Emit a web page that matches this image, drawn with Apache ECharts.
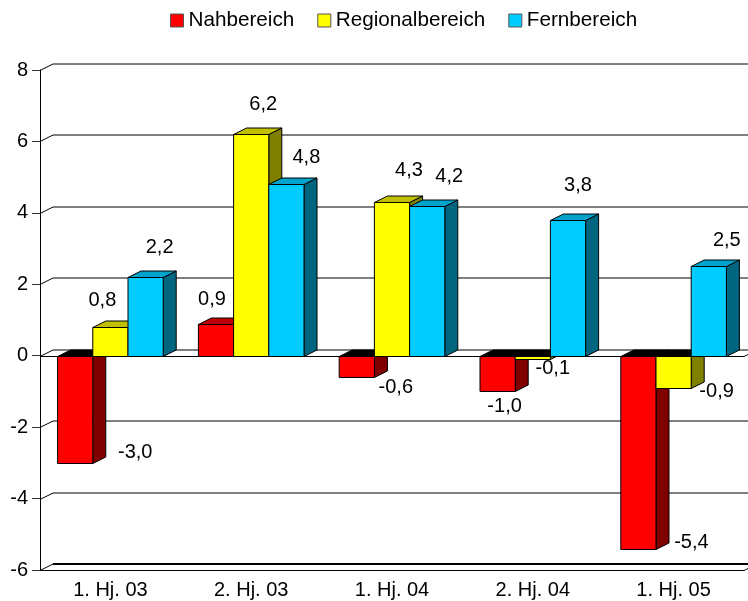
<!DOCTYPE html>
<html>
<head>
<meta charset="utf-8">
<style>
  html, body { margin: 0; padding: 0; background: #fff; }
  #chart { width: 748px; height: 601px; }
</style>
<script src="https://cdn.jsdelivr.net/npm/echarts@6/dist/echarts.min.js"></script>
</head>
<body>
<div id="chart"></div>
<script>
const categories = ['1. Hj. 03', '2. Hj. 03', '1. Hj. 04', '2. Hj. 04', '1. Hj. 05']
const nahbereich = [-3.0, 0.9, -0.6, -1.0, -5.4]
const regionalbereich = [0.8, 6.2, 4.3, -0.1, -0.9]
const fernbereich = [2.2, 4.8, 4.2, 3.8, 2.5]
const yTicks = [-6, -4, -2, 0, 2, 4, 6, 8]

// 3D depth of the bars and walls, in pixels
const DEPTH_X = 13
const DEPTH_Y = 6.5
const FONT = '"Liberation Sans", Arial, sans-serif'

// hand placed labels, offset from bar center / bar end
const nahOffsets = [[60, -11], [-4, -25], [39, 10], [7, 15], [53, -7]]
const regOffsets = [[-8, -27], [12, -30], [17, -32], [20, 9], [43, 3]]
const fernOffsets = [[14, -30], [20, -27], [22, -30], [10, -35], [18, -26]]

const crisp = (v) => Math.round(v) + 0.5

function renderWall(params, api) {
  const tick = api.value(1)
  const left = params.coordSys.x
  const right = left + params.coordSys.width
  const y = crisp(api.coord([0, tick])[1])
  const backY = y - DEPTH_Y
  const line = { stroke: '#000', lineWidth: 1, fill: null }
  const children = []
  if (tick === 0 || tick === yTicks[0]) {
    // floor plate at zero and at the bottom
    children.push({
      type: 'polygon',
      shape: { points: [[left, y], [left + DEPTH_X, backY], [right + DEPTH_X, backY], [right, y]] },
      style: { fill: '#fff', stroke: '#000', lineWidth: 1 }
    })
    if (tick !== 0) {
      children.push({
        type: 'line',
        shape: { x1: left + DEPTH_X, y1: backY, x2: right + DEPTH_X, y2: backY },
        style: { stroke: '#000', lineWidth: 2 }
      })
    }
  } else {
    children.push({
      type: 'polyline',
      shape: { points: [[left, y], [left + DEPTH_X, backY], [right + DEPTH_X, backY]] },
      style: line
    })
  }
  return { type: 'group', children: children }
}

function makeBars(index, front, top, side, offsets) {
  return function (params, api) {
    const value = api.value(1)
    const band = api.size([1, 0])[0]
    const barW = band / 4
    const center = api.coord([api.value(0), 0])[0]
    const x = center - band * 3 / 8 + index * barW
    const y0 = crisp(api.coord([0, 0])[1])
    const yv = crisp(api.coord([0, value])[1])
    const upper = Math.min(y0, yv)
    const lower = Math.max(y0, yv)
    const edge = { stroke: '#000', lineWidth: 1 }
    const off = offsets[params.dataIndex]
    return {
      type: 'group',
      children: [
        {
          type: 'polygon',
          shape: { points: [[x + barW, upper], [x + barW + DEPTH_X, upper - DEPTH_Y], [x + barW + DEPTH_X, lower - DEPTH_Y], [x + barW, lower]] },
          style: Object.assign({ fill: side }, edge)
        },
        {
          type: 'polygon',
          shape: { points: [[x, upper], [x + DEPTH_X, upper - DEPTH_Y], [x + barW + DEPTH_X, upper - DEPTH_Y], [x + barW, upper]] },
          // negative bars show a black lid on the zero plane
          style: Object.assign({ fill: value < 0 ? '#000' : top }, edge)
        },
        {
          type: 'rect',
          shape: { x: x, y: upper, width: barW, height: lower - upper },
          style: Object.assign({ fill: front }, edge)
        },
        {
          type: 'text',
          x: x + barW / 2 + off[0],
          y: yv + off[1],
          style: {
            text: value.toFixed(1).replace('.', ','),
            fill: '#000',
            font: '20px ' + FONT,
            align: 'center',
            verticalAlign: 'middle'
          }
        }
      ]
    }
  }
}

function barSeries(name, values, index, front, top, side, offsets) {
  return {
    name: name,
    type: 'custom',
    coordinateSystem: 'cartesian2d',
    itemStyle: { color: front },
    encode: { x: 0, y: 1 },
    data: values.map((v, i) => [i, v]),
    renderItem: makeBars(index, front, top, side, offsets)
  }
}

const chart = echarts.init(document.getElementById('chart'), null, { renderer: 'canvas' })
chart.setOption({
  animation: false,
  backgroundColor: '#fff',
  tooltip: { show: false },
  legend: {
    left: 165,
    top: 5,
    data: ['Nahbereich', 'Regionalbereich', 'Fernbereich'],
    icon: 'rect',
    itemWidth: 13,
    itemHeight: 13,
    itemGap: 23,
    itemStyle: { borderColor: '#555', borderWidth: 1 },
    textStyle: { color: '#000', fontSize: 20.7, fontFamily: FONT }
  },
  grid: { left: 40, right: 4, top: 70, bottom: 31 },
  xAxis: {
    type: 'category',
    data: categories,
    axisLine: { onZero: false, lineStyle: { color: '#000', width: 1 } },
    axisTick: { show: false },
    splitLine: { show: false },
    axisLabel: { color: '#000', fontSize: 20, fontFamily: FONT, margin: 10 }
  },
  yAxis: {
    type: 'value',
    min: -6,
    max: 8,
    interval: 2,
    axisLine: { show: true, lineStyle: { color: '#000', width: 1 } },
    axisTick: { show: true, length: 8, lineStyle: { color: '#333', width: 1 } },
    splitLine: { show: false },
    axisLabel: { color: '#000', fontSize: 20, fontFamily: FONT, margin: 12 }
  },
  series: [
    {
      name: 'walls',
      type: 'custom',
      coordinateSystem: 'cartesian2d',
      encode: { x: 0, y: 1 },
      data: yTicks.map((t) => [0, t]),
      renderItem: renderWall
    },
    barSeries('Nahbereich', nahbereich, 0, '#ff0000', '#c00000', '#800000', nahOffsets),
    barSeries('Regionalbereich', regionalbereich, 1, '#ffff00', '#c0c000', '#808000', regOffsets),
    barSeries('Fernbereich', fernbereich, 2, '#00ccff', '#00a3cc', '#006680', fernOffsets)
  ]
})
</script>
</body>
</html>
